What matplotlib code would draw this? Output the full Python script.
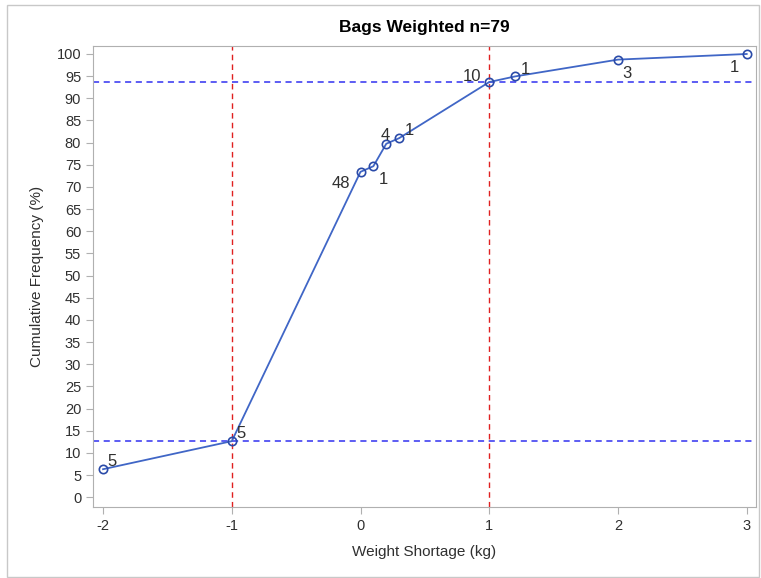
import numpy as np
import matplotlib.pyplot as plt
from matplotlib.patches import Rectangle

plt.rcParams['font.family'] = ['Liberation Sans', 'DejaVu Sans']
plt.rcParams['axes.unicode_minus'] = False

# weight shortage values and how many bags at each
shortage = [-2, -1, 0, 0.1, 0.2, 0.3, 1, 1.2, 2, 3]
counts = [5, 5, 48, 1, 4, 1, 10, 1, 3, 1]
n_total = sum(counts)
cum_pct = np.cumsum(counts) / n_total * 100

ref_x = [-1, 1]
ref_y = [cum_pct[1], cum_pct[6]]

# label offsets (points) for each count annotation
offsets = [(3, 2), (3, 2), (-21, -12), (4, -13), (-4, 3), (4, 2), (-19, 1), (4, 2), (3, -13), (-12, -13)]

fig = plt.figure(figsize=(7.61, 5.78), dpi=100)
fig.patches.append(Rectangle((7 / 761, 1 / 578), 752 / 761, 572 / 578, transform=fig.transFigure,
                             fill=False, edgecolor='#c8c8c8', linewidth=1))
ax = fig.add_axes([0.1222, 0.1228, 0.8712, 0.7976])

for v in ref_x:
    ax.axvline(v, color='#e02020', linestyle=(0, (4, 3)), linewidth=1)
for h in ref_y:
    ax.axhline(h, color='#3030f0', linestyle=(0, (4, 3)), linewidth=1.1)

ax.plot(shortage, cum_pct, color='#4066c6', linewidth=1.3, marker='o', markersize=6,
        markerfacecolor='none', markeredgecolor='#2a4aa8', markeredgewidth=1.2)

for x, y, c, off in zip(shortage, cum_pct, counts, offsets):
    ax.annotate(str(c), (x, y), xytext=off, textcoords='offset points', fontsize=12, color='#303030')

ax.set_xlim(-2.078, 3.072)
ax.set_ylim(-2.2, 101.8)
ax.set_xticks([-2, -1, 0, 1, 2, 3])
ax.set_yticks(np.arange(0, 101, 5))
for s in ax.spines.values():
    s.set_color('#b0b0b0')
ax.tick_params(colors='#b0b0b0', labelcolor='#303030', labelsize=10.5, length=5, direction='out')

ax.set_title(f'Bags Weighted n={n_total}', fontsize=12.5, fontweight='bold', pad=10)
ax.set_xlabel('Weight Shortage (kg)', fontsize=11, color='#303030', labelpad=9)
ax.set_ylabel('Cumulative Frequency (%)', fontsize=11, color='#303030', labelpad=9)

fig.savefig('out.png', dpi=100)
